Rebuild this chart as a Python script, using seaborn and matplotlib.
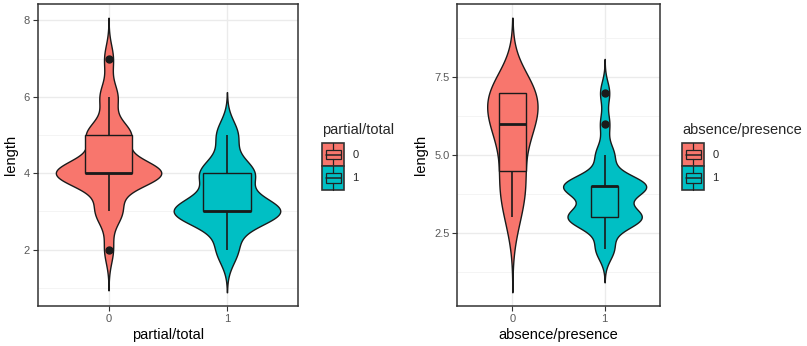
import numpy as np
import pandas as pd
import matplotlib
matplotlib.use("Agg")
import matplotlib.pyplot as plt
import seaborn as sns
from matplotlib.patches import Rectangle, Patch
from matplotlib.lines import Line2D
from matplotlib.legend_handler import HandlerBase

# ---------------- data ----------------
groups = ["0", "1"]
colors = ["#F8766D", "#00BFC4"]

# panel 1: partial/total
pt_values = [2, 3, 4, 5, 6, 7]
pt_counts_0 = [1, 3, 12, 5, 2, 1]
pt_values_1 = [2, 3, 4, 5]
pt_counts_1 = [2, 10, 5, 2]

# panel 2: absence/presence
ap_values_0 = [3, 4, 5, 6, 7]
ap_counts_0 = [1, 2, 1, 3, 4]
ap_values_1 = [2, 3, 4, 5, 6, 7]
ap_counts_1 = [2, 8, 9, 2, 1, 1]

box_width_1 = 0.4
box_width_2 = 0.3


def make_df(vals0, cnt0, vals1, cnt1):
    l0 = np.repeat(vals0, cnt0)
    l1 = np.repeat(vals1, cnt1)
    return pd.DataFrame({
        "group": ["0"] * len(l0) + ["1"] * len(l1),
        "length": np.concatenate([l0, l1]).astype(float),
    })


df1 = make_df(pt_values, pt_counts_0, pt_values_1, pt_counts_1)
df2 = make_df(ap_values_0, ap_counts_0, ap_values_1, ap_counts_1)


def nrd0(kde):
    # R's bw.nrd0 expressed as a scipy bandwidth factor
    x = np.asarray(kde.dataset).ravel()
    n = len(x)
    sd = x.std(ddof=1)
    q75, q25 = np.percentile(x, [75, 25])
    lo = min(sd, (q75 - q25) / 1.34)
    bw = 0.9 * lo * n ** (-0.2)
    return bw / sd


class BoxKey(HandlerBase):
    def create_artists(self, legend, orig_handle, xdescent, ydescent,
                       width, height, fontsize, trans):
        fc = orig_handle.get_facecolor()
        x0, y0 = -xdescent, -ydescent
        arts = []
        arts.append(Rectangle((x0, y0), width, height, facecolor=fc,
                              edgecolor="#333333", lw=1.2, transform=trans))
        arts.append(Rectangle((x0 + 0.14 * width, y0 + 0.3 * height),
                              0.72 * width, 0.4 * height, facecolor=fc,
                              edgecolor="#222222", lw=0.9, transform=trans))
        arts.append(Line2D([x0 + 0.14 * width, x0 + 0.86 * width],
                           [y0 + 0.5 * height] * 2, color="#222222", lw=1.1,
                           transform=trans))
        arts.append(Line2D([x0 + 0.5 * width] * 2, [y0, y0 + 0.3 * height],
                           color="#222222", lw=0.9, transform=trans))
        arts.append(Line2D([x0 + 0.5 * width] * 2,
                           [y0 + 0.7 * height, y0 + height],
                           color="#222222", lw=0.9, transform=trans))
        return arts


sns.set_theme(style="white")
plt.rcParams["font.family"] = ["Liberation Sans", "DejaVu Sans"]

fig = plt.figure(figsize=(8.07, 3.46), dpi=100)
W, H = 807, 346
ax1 = fig.add_axes([37.5 / W, (H - 306) / H, (298 - 37.5) / W, (306 - 4) / H])
ax2 = fig.add_axes([457 / W, (H - 306) / H, (660 - 457) / W, (306 - 4) / H])

palette = dict(zip(groups, colors))


def draw(ax, df, xlabel, bw_box, major, minor):
    sns.violinplot(data=df, x="group", y="length", hue="group", order=groups,
                   hue_order=groups, palette=palette, saturation=1,
                   inner=None, cut=3, bw_method=nrd0, gridsize=512,
                   density_norm="area", common_norm=True, width=0.9,
                   linecolor="#1a1a1a", linewidth=1.0, legend=False, ax=ax)
    sns.boxplot(data=df, x="group", y="length", hue="group", order=groups,
                hue_order=groups, palette=palette, saturation=1,
                width=bw_box, linecolor="#1a1a1a", linewidth=1.0,
                fliersize=5, legend=False, showcaps=False,
                flierprops=dict(marker="o", markerfacecolor="#1a1a1a",
                                markeredgecolor="#1a1a1a"),
                medianprops=dict(linewidth=2.0, color="#1a1a1a"),
                whiskerprops=dict(linewidth=1.2, color="#1a1a1a"),
                ax=ax)
    ax.set_xlim(-0.6, 1.6)
    ax.autoscale(axis="y")
    ax.set_yticks(major)
    ax.set_yticks(minor, minor=True)
    ax.grid(True, which="major", color="#EBEBEB", lw=1.0)
    ax.grid(True, which="minor", axis="y", color="#F2F2F2", lw=0.6)
    ax.set_axisbelow(True)
    for s in ax.spines.values():
        s.set_color("#333333")
        s.set_linewidth(1.1)
        s.set_visible(True)
    ax.tick_params(axis="both", which="major", length=3.5, width=0.8,
                   color="#333333", labelcolor="#595959", labelsize=8.0,
                   direction="out", pad=2, left=True, bottom=True)
    ax.tick_params(axis="y", which="minor", length=0, left=False)
    ax.set_xlabel(xlabel, fontsize=10.5, color="black", labelpad=3)
    ax.set_ylabel("length", fontsize=10.5, color="black", labelpad=4)


draw(ax1, df1, "partial/total", box_width_1, [2, 4, 6, 8], [1, 3, 5, 7])
ax1.set_yticklabels(["2", "4", "6", "8"])
draw(ax2, df2, "absence/presence", box_width_2, [2.5, 5.0, 7.5],
     [1.25, 3.75, 6.25, 8.75])
ax2.set_yticklabels(["2.5", "5.0", "7.5"])

handles = [Patch(facecolor=c) for c in colors]
for title, xl in [("partial/total", 318 / W), ("absence/presence", 678 / W)]:
    leg = fig.legend(handles, groups, title=title,
                     handler_map={Patch: BoxKey()},
                     loc="upper left", bbox_to_anchor=(xl, (H - 119) / H),
                     frameon=False, fontsize=8.0, title_fontsize=10.5,
                     handlelength=1.98, handleheight=2.85, labelspacing=0.0,
                     handletextpad=0.7, borderpad=0.2, borderaxespad=0.2)
    leg._legend_box.align = "left"
    leg._legend_box.sep = 4

fig.savefig("out.png", dpi=100)
